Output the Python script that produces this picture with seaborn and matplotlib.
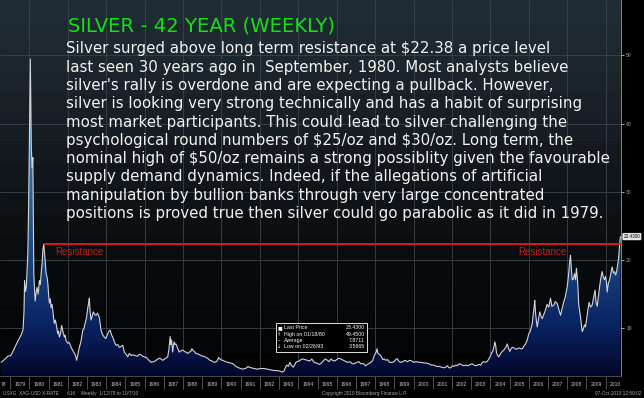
import numpy as np
import pandas as pd
import matplotlib
matplotlib.use("Agg")
import matplotlib.pyplot as plt
import matplotlib.transforms as mtransforms
from matplotlib.colors import LinearSegmentedColormap
from matplotlib.patches import Rectangle
import seaborn as sns

# silver closes (decimal year, USD/oz)
dates = [
    1978.53, 1978.70, 1978.88, 1979.03, 1979.18, 1979.31, 1979.45, 1979.57, 1979.67, 1979.72,
    1979.75, 1979.80, 1979.84, 1979.88, 1979.92, 1979.96, 1980.00, 1980.05, 1980.08, 1980.10,
    1980.14, 1980.18, 1980.21, 1980.23, 1980.27, 1980.30, 1980.35, 1980.40, 1980.46, 1980.52,
    1980.57, 1980.61, 1980.66, 1980.70, 1980.75, 1980.79, 1980.82, 1980.87, 1980.92, 1980.96,
    1981.00, 1981.04, 1981.09, 1981.13, 1981.18, 1981.22, 1981.26, 1981.30, 1981.35, 1981.39,
    1981.44, 1981.48, 1981.52, 1981.56, 1981.62, 1981.68, 1981.75, 1981.82, 1981.86, 1981.91,
    1982.00, 1982.08, 1982.17, 1982.25, 1982.34, 1982.40, 1982.46, 1982.52, 1982.60, 1982.68,
    1982.73, 1982.78, 1982.84, 1982.90, 1982.97, 1983.04, 1983.08, 1983.12, 1983.16, 1983.21,
    1983.27, 1983.33, 1983.40, 1983.47, 1983.55, 1983.64, 1983.69, 1983.73, 1983.80, 1983.90,
    1983.98, 1984.08, 1984.15, 1984.21, 1984.28, 1984.34, 1984.42, 1984.51, 1984.60, 1984.68,
    1984.76, 1984.86, 1984.94, 1985.03, 1985.12, 1985.20, 1985.30, 1985.38, 1985.50, 1985.64,
    1985.72, 1985.81, 1985.90, 1985.98, 1986.10, 1986.22, 1986.33, 1986.45, 1986.55, 1986.68,
    1986.80, 1986.94, 1987.05, 1987.15, 1987.20, 1987.26, 1987.31, 1987.33, 1987.36, 1987.40,
    1987.44, 1987.46, 1987.50, 1987.54, 1987.58, 1987.63, 1987.70, 1987.80, 1987.90, 1987.98,
    1988.07, 1988.15, 1988.25, 1988.32, 1988.40, 1988.46, 1988.50, 1988.58, 1988.67, 1988.80,
    1988.93, 1989.05, 1989.15, 1989.28, 1989.40, 1989.50, 1989.62, 1989.75, 1989.85, 1989.88,
    1989.95, 1990.06, 1990.20, 1990.35, 1990.49, 1990.60, 1990.75, 1990.90, 1991.10, 1991.25,
    1991.38, 1991.44, 1991.55, 1991.70, 1991.85, 1992.05, 1992.20, 1992.40, 1992.55, 1992.74,
    1992.90, 1993.05, 1993.15, 1993.25, 1993.32, 1993.40, 1993.48, 1993.56, 1993.65, 1993.75,
    1993.87, 1993.95, 1994.05, 1994.13, 1994.25, 1994.35, 1994.48, 1994.60, 1994.70, 1994.82,
    1994.95, 1995.08, 1995.17, 1995.30, 1995.40, 1995.52, 1995.60, 1995.70, 1995.78, 1995.90,
    1996.05, 1996.12, 1996.21, 1996.35, 1996.48, 1996.56, 1996.70, 1996.80, 1996.90, 1997.05,
    1997.15, 1997.25, 1997.40, 1997.50, 1997.60, 1997.72, 1997.86, 1997.96, 1998.05, 1998.10,
    1998.14, 1998.20, 1998.29, 1998.40, 1998.48, 1998.55, 1998.65, 1998.75, 1998.81, 1998.92,
    1999.02, 1999.10, 1999.16, 1999.25, 1999.33, 1999.45, 1999.55, 1999.68, 1999.80, 1999.90,
    2000.02, 2000.15, 2000.30, 2000.42, 2000.54, 2000.65, 2000.80, 2000.92, 2001.06, 2001.20,
    2001.35, 2001.45, 2001.58, 2001.68, 2001.76, 2001.85, 2001.93, 2002.03, 2002.10, 2002.20,
    2002.28, 2002.38, 2002.45, 2002.55, 2002.62, 2002.72, 2002.80, 2002.88, 2002.97, 2003.05,
    2003.14, 2003.25, 2003.40, 2003.50, 2003.58, 2003.66, 2003.75, 2003.85, 2003.92, 2004.00,
    2004.06, 2004.12, 2004.18, 2004.23, 2004.27, 2004.32, 2004.38, 2004.44, 2004.53, 2004.62,
    2004.70, 2004.80, 2004.88, 2004.95, 2005.01, 2005.08, 2005.14, 2005.25, 2005.33, 2005.40,
    2005.50, 2005.58, 2005.66, 2005.75, 2005.83, 2005.92, 2006.00, 2006.08, 2006.18, 2006.22,
    2006.28, 2006.31, 2006.35, 2006.40, 2006.44, 2006.50, 2006.57, 2006.63, 2006.70, 2006.78,
    2006.87, 2006.95, 2007.04, 2007.10, 2007.13, 2007.20, 2007.30, 2007.38, 2007.48, 2007.56,
    2007.65, 2007.72, 2007.82, 2007.90, 2008.00, 2008.06, 2008.12, 2008.17, 2008.22, 2008.26,
    2008.32, 2008.38, 2008.43, 2008.48, 2008.55, 2008.60, 2008.65, 2008.69, 2008.74, 2008.78,
    2008.84, 2008.90, 2008.95, 2009.02, 2009.07, 2009.14, 2009.21, 2009.30, 2009.38, 2009.45,
    2009.50, 2009.56, 2009.62, 2009.70, 2009.76, 2009.82, 2009.88, 2009.94, 2010.00, 2010.05,
    2010.08, 2010.14, 2010.21, 2010.28, 2010.34, 2010.40, 2010.46, 2010.52, 2010.57, 2010.64,
    2010.69, 2010.73, 2010.77,
]
prices = [
    5.0, 5.4, 5.9, 6.0, 6.8, 7.6, 8.4, 9.0, 9.8, 12.5,
    17.0, 15.4, 16.0, 18.5, 21.0, 28.0, 37.6, 49.45, 42.0, 36.6,
    33.5, 35.0, 25.0, 18.0, 15.5, 14.0, 15.2, 16.0, 15.0, 17.0,
    16.4, 18.0, 19.5, 21.5, 22.3, 21.0, 20.0, 18.0, 17.5, 16.6,
    15.0, 13.7, 14.3, 13.0, 13.5, 12.6, 11.5, 10.7, 11.2, 10.7,
    9.8, 9.2, 9.6, 8.7, 9.2, 10.4, 9.5, 8.7, 9.0, 8.2,
    7.8, 7.9, 7.2, 6.8, 6.3, 6.0, 5.3, 6.1, 7.2, 8.0,
    8.8, 9.7, 9.9, 10.7, 11.5, 13.0, 13.6, 14.4, 12.5, 11.2,
    11.8, 12.4, 12.0, 11.9, 12.2, 11.6, 10.6, 9.7, 9.1, 8.7,
    8.5, 9.2, 9.6, 9.7, 9.0, 8.7, 8.0, 7.5, 7.6, 7.2,
    7.3, 7.5, 6.5, 6.2, 5.8, 6.3, 6.0, 6.1, 6.0, 5.9,
    6.2, 6.1, 5.9, 5.8, 5.7, 5.3, 5.0, 5.1, 5.2, 5.5,
    5.6, 5.3, 5.5, 5.7, 5.8, 6.8, 8.2, 8.8, 7.6, 8.3,
    7.2, 6.5, 7.5, 8.0, 7.6, 7.7, 7.2, 6.5, 6.7, 6.8,
    6.6, 6.5, 6.3, 6.5, 6.6, 7.0, 6.8, 6.6, 6.3, 6.2,
    6.0, 5.9, 5.8, 5.6, 5.3, 5.2, 5.0, 5.1, 5.7, 5.6,
    5.4, 5.3, 5.1, 5.0, 4.9, 4.8, 4.4, 4.2, 4.0, 4.1,
    4.4, 4.3, 4.2, 4.1, 4.0, 4.1, 4.1, 4.0, 3.9, 3.8,
    3.8, 3.7, 3.57, 3.7, 4.2, 4.6, 4.4, 5.0, 4.5, 4.3,
    5.0, 5.1, 5.2, 5.4, 5.5, 5.4, 5.3, 5.2, 5.5, 5.0,
    4.9, 4.7, 4.8, 5.2, 5.5, 5.3, 5.1, 5.5, 5.3, 5.2,
    5.5, 5.6, 5.5, 5.3, 5.1, 5.0, 5.1, 4.8, 4.8, 5.0,
    5.1, 4.8, 4.8, 4.5, 4.7, 4.9, 5.2, 6.0, 6.5, 7.0,
    6.3, 6.2, 6.0, 5.4, 5.5, 5.3, 5.4, 5.0, 5.0, 5.0,
    5.2, 5.5, 5.5, 5.1, 5.0, 5.1, 5.3, 5.1, 5.3, 5.2,
    5.0, 5.1, 5.0, 5.0, 4.9, 4.9, 4.8, 4.6, 4.6, 4.4,
    4.4, 4.3, 4.2, 4.3, 4.5, 4.2, 4.2, 4.5, 4.4, 4.6,
    4.5, 4.8, 4.7, 4.6, 4.5, 4.6, 4.5, 4.6, 4.7, 4.8,
    4.6, 4.5, 4.7, 4.6, 5.0, 5.1, 5.0, 5.2, 5.5, 5.9,
    6.4, 6.6, 7.2, 8.0, 7.6, 6.4, 6.0, 5.8, 6.3, 6.6,
    6.8, 7.2, 7.7, 7.0, 6.6, 7.0, 7.2, 7.1, 6.9, 7.0,
    7.1, 7.0, 7.0, 7.4, 7.7, 8.3, 9.2, 9.6, 10.7, 11.8,
    13.2, 14.1, 12.3, 11.0, 10.2, 11.2, 12.4, 11.8, 11.4, 12.0,
    12.7, 13.5, 13.1, 13.9, 14.4, 13.2, 13.4, 13.9, 13.6, 12.8,
    11.9, 12.7, 13.9, 14.6, 16.1, 17.5, 19.5, 20.7, 18.5, 17.1,
    17.2, 18.0, 17.1, 18.8, 16.5, 13.4, 12.5, 11.7, 10.5, 9.5,
    9.9, 10.5, 10.2, 11.5, 12.6, 13.8, 13.1, 13.4, 14.6, 15.6,
    13.8, 13.2, 14.6, 16.4, 17.5, 18.3, 17.5, 17.1, 17.6, 16.4,
    15.3, 16.6, 17.1, 18.2, 19.0, 18.1, 18.3, 17.8, 18.3, 19.5,
    20.7, 22.4, 23.43,
]

year_labels = list(range(1979, 2011))
year_edges = list(range(1979, 2011))
grid_years = list(range(1980, 2011, 2))
price_ticks = [10, 20, 30, 40, 50]
resistance = 22.38
resistance_from = 1980.75
resistance_label_x = [1981.34, 2005.47]
last_price_text = "23.4300"

title = "SILVER - 42 YEAR (WEEKLY)"
body_lines = [
    "Silver surged above long term resistance at $22.38 a price level",
    "last seen 30 years ago in  September, 1980. Most analysts believe",
    "silver's rally is overdone and are expecting a pullback. However,",
    "silver is looking very strong technically and has a habit of surprising",
    "most market participants. This could lead to silver challenging the",
    "psychological round numbers of $25/oz and $30/oz. Long term, the",
    "nominal high of $50/oz remains a strong possiblity given the favourable",
    "supply demand dynamics. Indeed, if the allegations of artificial",
    "manipulation by bullion banks through very large concentrated",
    "positions is proved true then silver could go parabolic as it did in 1979.",
]
legend_symbols = ["\u25a0", "\u2191", "--", "\u2193"]
legend_names = ["Last Price", "High on 01/18/80", "Average", "Low on 02/26/93"]
legend_values = ["23.4300", "49.4500", "7.8711", "3.5665"]
footer_left = "USXG  XAG-USD X-RATE      616    Weekly  1/12/79 to 10/7/10"
footer_mid = "Copyright 2010 Bloomberg Finance L.P."
footer_right = "07-Oct-2010 12:59:02"

W, H = 644, 398


def px(x, y):
    return x / W, 1 - y / H


sns.set_theme(style="dark")
plt.rcParams["font.family"] = ["DejaVu Sans"]
plt.rcParams["text.parse_math"] = False

df = pd.DataFrame({"date": dates, "price": prices})

fig = plt.figure(figsize=(W / 100, H / 100), dpi=100, facecolor="black")
ax = fig.add_axes([0, 22 / H, 621 / W, 376 / H])
x0, x1 = 1978.47, 2010.80
y0, y1 = 3.0, 58.1

# banded dark background
bg = LinearSegmentedColormap.from_list("bg", ["#030304", "#0a0d10", "#161d23", "#202c35"])
ax.imshow(np.linspace(0, 1, 16).reshape(-1, 1), extent=[x0, x1, y0, y1], origin="lower",
          aspect="auto", cmap=bg, interpolation="nearest", zorder=0)
ax.hlines(price_ticks, x0, x1, color="#3b434b", lw=0.6, zorder=0.5)
ax.vlines(grid_years, y0, y1, color="#3b434b", lw=0.6, zorder=0.5)

# gradient fill under the price line
area = ax.fill_between(df["date"], df["price"], y0, facecolor="none", edgecolor="none")
fill_cmap = LinearSegmentedColormap.from_list(
    "fill", [(0, "#03072c"), (0.13, "#0a2260"), (0.31, "#184682"), (0.6, "#3276ad"), (1, "#6fb2dc")])
grad = ax.imshow(np.linspace(0, 1, 256).reshape(-1, 1), extent=[x0, x1, y0, y1], origin="lower",
                 aspect="auto", cmap=fill_cmap, zorder=1)
grad.set_clip_path(area.get_paths()[0], transform=ax.transData)

sns.lineplot(data=df, x="date", y="price", ax=ax, color="#d4d4d4", linewidth=0.8, zorder=3)

ax.hlines(resistance, resistance_from, x1, color="#d81818", lw=1.4, zorder=4)
for rx in resistance_label_x:
    ax.text(rx, resistance - 1.2, "Resistance", color="#d01a1a", fontsize=7,
            family="Liberation Sans", ha="left", va="center", zorder=4)

ax.set_xlim(x0, x1)
ax.set_ylim(y0, y1)
ax.set_xlabel("")
ax.set_ylabel("")

ax.set_xticks([y + 0.5 for y in year_labels])
ax.set_xticklabels([str(y) for y in year_labels], fontsize=3.6, color="#c8c8c8",
                   family="Liberation Sans")
ax.set_xticks(year_edges, minor=True)
ax.tick_params(axis="x", which="major", bottom=True, length=0, pad=4.3)
ax.tick_params(axis="x", which="minor", bottom=True, length=9.5, width=0.5,
               color="#707070", direction="out")
# the clipped "78" at the far left of the date strip
fig.text(*px(0.5, 385), "78", color="#c8c8c8", fontsize=3.6, family="Liberation Sans",
         ha="left", va="center")

ax.yaxis.tick_right()
ax.set_yticks(price_ticks)
ax.set_yticklabels([str(v) for v in price_ticks], fontsize=3.6, color="#a8a8a8",
                   family="Liberation Sans")
ax.tick_params(axis="y", right=True, left=False, length=2.2, width=0.6, color="#c8c8c8",
               direction="out", pad=1.5)

for s in ["top", "left"]:
    ax.spines[s].set_visible(False)
ax.spines["right"].set_color("#9a9a9a")
ax.spines["right"].set_linewidth(0.6)
ax.spines["bottom"].set_color("#555555")
ax.spines["bottom"].set_linewidth(0.6)

# last price tag on the right axis
trans = mtransforms.blended_transform_factory(ax.transAxes, ax.transData)
ax.text(1.004, prices[-1], last_price_text, transform=trans, fontsize=3.3,
        family="Liberation Sans", color="black", ha="left", va="center", clip_on=False,
        bbox=dict(boxstyle="round,pad=0.25", fc="#e6e6e6", ec="none"), zorder=6)

# headline and commentary
fig.text(*px(68, 31.7), title, color="#14e014", fontsize=14.1, ha="left", va="baseline")
for i, line in enumerate(body_lines):
    fig.text(*px(66, 53.3 + i * 18.3), line, color="#f2f2f2", fontsize=10.8,
             ha="left", va="baseline")

# legend box
fig.add_artist(Rectangle(px(276, 351.7), 90.7 / W, 29 / H, transform=fig.transFigure,
                         fc="black", ec="#e0e0e0", lw=0.7, zorder=5))
for i, (sym, name, val) in enumerate(zip(legend_symbols, legend_names, legend_values)):
    yy = 327.8 + i * 6.3
    fig.text(*px(279.5, yy), sym, color="white", fontsize=3.6, ha="center", va="center", zorder=6)
    fig.text(*px(283.5, yy), name, color="white", fontsize=3.8, family="Liberation Sans",
             ha="left", va="center", zorder=6)
    fig.text(*px(365, yy), val, color="white", fontsize=3.8, family="Liberation Sans",
             ha="right", va="center", zorder=6)

# footer
fig.text(*px(3, 393.5), footer_left, color="#a8a8a8", fontsize=3.4, family="Liberation Sans",
         ha="left", va="center")
fig.text(*px(322, 393.5), footer_mid, color="#a8a8a8", fontsize=3.4, family="Liberation Sans",
         ha="left", va="center")
fig.text(*px(641, 393.5), footer_right, color="#a8a8a8", fontsize=3.4, family="Liberation Sans",
         ha="right", va="center")

fig.savefig("out.png", dpi=100, facecolor="black")
